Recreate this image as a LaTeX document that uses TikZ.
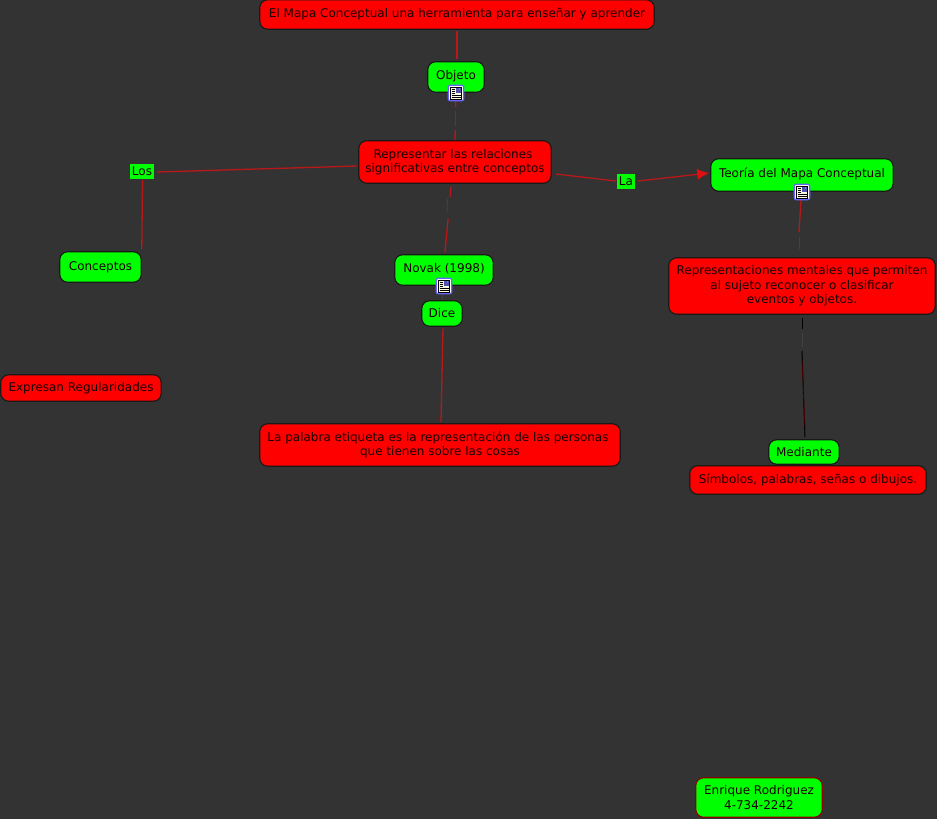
\documentclass[tikz,border=0pt]{standalone}
\usepackage{fontspec}
\setmainfont{DejaVu Sans}
\usetikzlibrary{arrows.meta,calc}
\definecolor{bg}{HTML}{333333}
\definecolor{linkred}{HTML}{B81818}
\definecolor{headred}{HTML}{E01010}
\definecolor{fade}{HTML}{424242}
\definecolor{nred}{HTML}{FF0000}
\definecolor{ngreen}{HTML}{00FF00}
\definecolor{paper}{HTML}{FFFBE0}
\tikzset{
  x=1pt,y=-1pt,
  every node/.style={font=\fontsize{12}{14.6}\selectfont,text=black!90!red,inner sep=0pt,align=center},
  concept/.style={draw=black!90,line width=1.1pt,rounded corners=8pt},
  redbox/.style={concept,fill=nred},
  greenbox/.style={concept,fill=ngreen},
  phrase/.style={fill=ngreen,minimum width=#1,minimum height=15pt},
  link/.style={draw=linkred,line width=1.3pt},
  faint/.style={draw=fade,line width=0.9pt},
  dark/.style={draw=black,line width=1.0pt},
  iconbox/.style={draw=blue!60!white,fill=white,line width=1.2pt,rounded corners=2pt,minimum width=15.5pt,minimum height=15.5pt}
}
\newcommand{\bx}[6]{\node[#1,minimum width=#4,minimum height=#5] (#6) at (#2,#3)}
\newcommand{\docicon}[3]{%
  \node[iconbox] (#1) at (#2,#3) {};
  \fill[paper] ($(#1.center)+(-5.5,-6)$) rectangle ($(#1.center)+(5.5,6)$);
  \draw[black,line width=0.7pt] ($(#1.center)+(-5.5,-6)$) rectangle ($(#1.center)+(5.5,6)$);
  \fill[blue!35!gray] ($(#1.center)+(0,-5.5)$) rectangle ($(#1.center)+(5,-0.5)$);
  \fill[red!70!white] ($(#1.center)+(2.5,-5)$) rectangle ($(#1.center)+(4,-3.5)$);
  \foreach \yy in {-4,-2,0}{\draw[black,line width=0.6pt] ($(#1.center)+(-4.5,\yy)$) -- ($(#1.center)+(-1,\yy)$);}
  \foreach \yy in {2,4}{\draw[black,line width=0.6pt] ($(#1.center)+(-4.5,\yy)$) -- ($(#1.center)+(4.5,\yy)$);}
}
\begin{document}
\begin{tikzpicture}
\useasboundingbox (0,0) rectangle (937,819);
\fill[bg] (0,0) rectangle (937,819);
% concepts
\bx{redbox}{457}{14.5}{394.5pt}{29.5pt}{title} {El Mapa Conceptual una herramienta para enseñar y aprender};
\bx{greenbox}{456}{77}{56.5pt}{30.5pt}{objeto} {\raisebox{5pt}{Objeto}};
\bx{redbox}{455}{162}{192.5pt}{42.5pt}{repr} {\hspace*{-4pt}Representar las relaciones\\significativas entre conceptos};
\bx{greenbox}{802}{175}{182.5pt}{32.5pt}{teoria} {\raisebox{4.5pt}{Teoría del Mapa Conceptual}};
\bx{redbox}{802}{286}{266.5pt}{56.5pt}{rment} {Representaciones mentales que permiten\\al sujeto reconocer o clasificar\\eventos y objetos.};
\bx{greenbox}{444}{270}{98.5pt}{30.5pt}{novak} {\raisebox{5pt}{Novak (1998)}};
\bx{greenbox}{442}{313.5}{40.5pt}{25.5pt}{dice} {Dice};
\bx{greenbox}{100.5}{267}{81.5pt}{30.5pt}{conceptos} {Conceptos};
\bx{redbox}{81}{388}{160.5pt}{26.5pt}{expresan} {Expresan Regularidades};
\bx{redbox}{440}{445}{360.5pt}{42.5pt}{palabra} {\hspace*{-4pt}La palabra etiqueta es la representación de las personas\\que tienen sobre las cosas};
\bx{greenbox}{804}{452}{70.5pt}{24.5pt}{mediante} {Mediante};
\bx{redbox}{808}{480}{236.5pt}{28.5pt}{simbolos} {Símbolos, palabras, señas o dibujos.};
\node[concept,fill=ngreen,draw=red!55!black,minimum width=126.5pt,minimum height=39.5pt] (autor) at (759,797.5) {Enrique Rodriguez\\4-734-2242};
% linking phrases
\node[phrase=24pt] (los) at (142,171.5) {Los};
\node[phrase=18pt] (la) at (626,181) {La};
% connectors
\draw[link] (title.south) ++(0,1) -- ($(objeto.north)+(1,-2)$);
\draw[link,dash pattern=on 14pt off 23pt on 12pt] (objeto.south) -- (repr.north);
\draw[faint] ($(objeto.south)+(-0.5,18)$) -- ($(objeto.south)+(-0.5,33)$);
\draw[link] ($(repr.west)+(-1,4)$) -- ($(los.east)+(3,0.5)$);
\draw[link] ($(los.south)+(0.5,1)$) -- ($(conceptos.north east)+(0,-2)$);
\draw[link] ($(repr.east)+(4,12)$) -- ($(la.west)+(-1,0)$);
\draw[link,-{Latex[length=12pt,width=11pt,color=headred]}] ($(la.east)+(3,0)$) -- ($(teoria.west)+(-1,-2)$);
\draw[link,dash pattern=on 10pt off 22pt on 38pt] ($(repr.south)+(-4,3)$) -- ($(novak.north)+(1,-2)$);
\draw[faint] (447.5,199) -- (447,213);
\draw[link] ($(teoria.south)+(-1,8)$) -- ($(rment.north)+(-3,-25)$);
\draw[faint] ($(teoria.south)+(-3,45)$) -- ($(rment.north)+(-3,-8)$);
\draw[faint] (novak.south) -- (dice.north);
\draw[link] ($(dice.south)+(1,1)$) -- ($(palabra.north)+(1,-1)$);
\draw[dark] ($(rment.south)+(0,3)$) -- ($(rment.south)+(0,14)$);
\draw[faint] ($(rment.south)+(0,18)$) -- ($(rment.south)+(0,32)$);
\draw[dark] ($(rment.south)+(0,36)$) -- ($(mediante.north)+(1,-2)$);
\draw[draw=red!45!black,line width=0.4pt] ($(rment.south)+(0,45)$) -- ($(mediante.north)+(1,-12)$);
% resource icons
\docicon{iconA}{456}{93}
\docicon{iconB}{802}{192}
\docicon{iconC}{444}{286}
\end{tikzpicture}
\end{document}
